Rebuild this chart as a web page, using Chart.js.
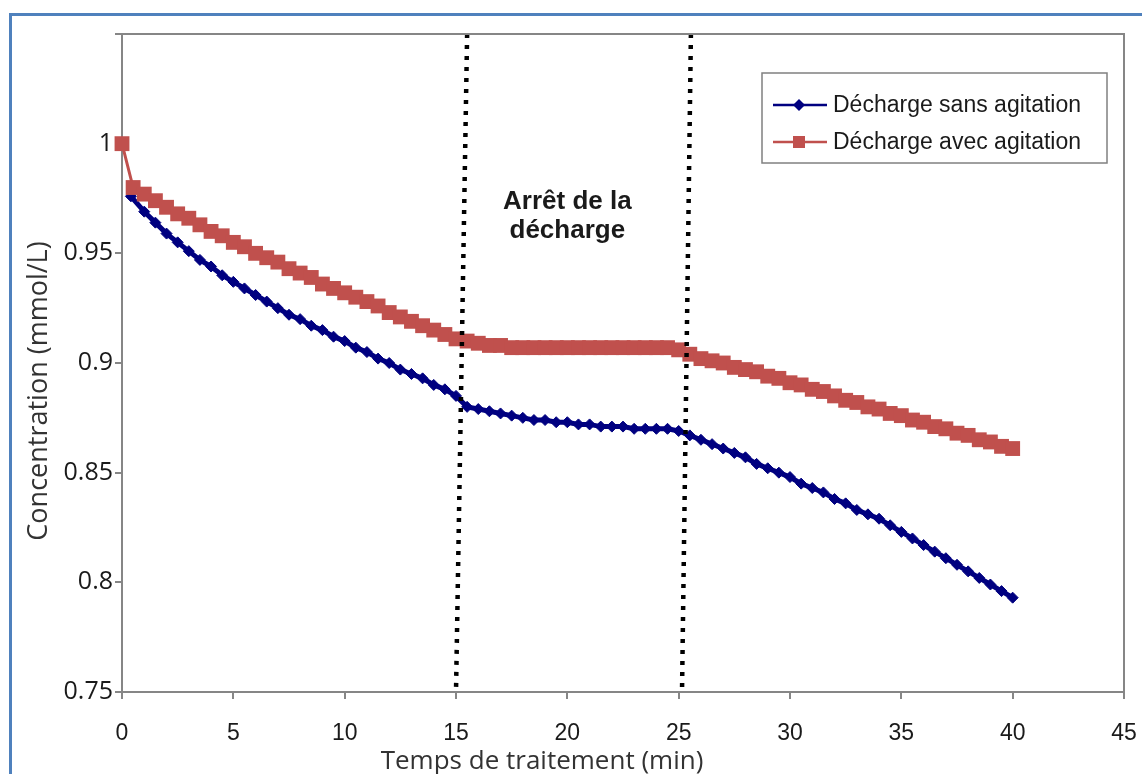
<!DOCTYPE html>
<html>
<head>
<meta charset="utf-8">
<script src="https://cdn.jsdelivr.net/npm/chart.js@4"></script>
<style>
    html, body { margin: 0; padding: 0; background: #fff; }
    #wrap { position: relative; width: 1142px; height: 774px; overflow: hidden; }
    #frame {
        position: absolute; left: 9px; top: 13px; width: 1200px; height: 800px;
        border-left: 3px solid #4f81bd; border-top: 3px solid #4f81bd;
        box-sizing: border-box; pointer-events: none;
    }
    canvas { position: absolute; left: 0; top: 0; }
</style>
</head>
<body>
<div id="wrap">
    <canvas id="chart" width="1142" height="774"></canvas>
    <div id="frame"></div>
</div>
<script>
// Temps (min) - une mesure toutes les 30 s
const timesAvec = [0, 0.5, 1, 1.5, 2, 2.5, 3, 3.5, 4, 4.5, 5, 5.5, 6, 6.5, 7, 7.5, 8, 8.5, 9, 9.5,
    10, 10.5, 11, 11.5, 12, 12.5, 13, 13.5, 14, 14.5, 15, 15.5, 16, 16.5, 17, 17.5, 18, 18.5, 19, 19.5,
    20, 20.5, 21, 21.5, 22, 22.5, 23, 23.5, 24, 24.5, 25, 25.5, 26, 26.5, 27, 27.5, 28, 28.5, 29, 29.5,
    30, 30.5, 31, 31.5, 32, 32.5, 33, 33.5, 34, 34.5, 35, 35.5, 36, 36.5, 37, 37.5, 38, 38.5, 39, 39.5, 40];
const timesSans = [0.4, 1, 1.5, 2, 2.5, 3, 3.5, 4, 4.5, 5, 5.5, 6, 6.5, 7, 7.5, 8, 8.5, 9, 9.5,
    10, 10.5, 11, 11.5, 12, 12.5, 13, 13.5, 14, 14.5, 15, 15.5, 16, 16.5, 17, 17.5, 18, 18.5, 19, 19.5,
    20, 20.5, 21, 21.5, 22, 22.5, 23, 23.5, 24, 24.5, 25, 25.5, 26, 26.5, 27, 27.5, 28, 28.5, 29, 29.5,
    30, 30.5, 31, 31.5, 32, 32.5, 33, 33.5, 34, 34.5, 35, 35.5, 36, 36.5, 37, 37.5, 38, 38.5, 39, 39.5, 40];

// Concentration (mmol/L)
const sansAgitation = [0.976, 0.969, 0.964, 0.959, 0.955, 0.951, 0.947, 0.944, 0.940, 0.937,
    0.934, 0.931, 0.928, 0.925, 0.922, 0.920, 0.917, 0.915, 0.912, 0.910,
    0.907, 0.905, 0.902, 0.900, 0.897, 0.895, 0.893, 0.890, 0.888, 0.885,
    0.880, 0.879, 0.878, 0.877, 0.876, 0.875, 0.874, 0.874, 0.873, 0.873,
    0.872, 0.872, 0.871, 0.871, 0.871, 0.870, 0.870, 0.870, 0.870, 0.869,
    0.867, 0.865, 0.863, 0.861, 0.859, 0.857, 0.854, 0.852, 0.850, 0.848,
    0.845, 0.843, 0.841, 0.838, 0.836, 0.833, 0.831, 0.829, 0.826, 0.823,
    0.820, 0.817, 0.814, 0.811, 0.808, 0.805, 0.802, 0.799, 0.796, 0.793];
const avecAgitation = [1.000, 0.980, 0.977, 0.974, 0.971, 0.968, 0.966, 0.963, 0.960, 0.958,
    0.955, 0.953, 0.950, 0.948, 0.946, 0.943, 0.941, 0.939, 0.936, 0.934,
    0.932, 0.930, 0.928, 0.926, 0.923, 0.921, 0.919, 0.917, 0.915, 0.913,
    0.911, 0.910, 0.909, 0.908, 0.908, 0.907, 0.907, 0.907, 0.907, 0.907,
    0.907, 0.907, 0.907, 0.907, 0.907, 0.907, 0.907, 0.907, 0.907, 0.907,
    0.906, 0.904, 0.902, 0.901, 0.900, 0.898, 0.897, 0.896, 0.894, 0.893,
    0.891, 0.890, 0.888, 0.887, 0.885, 0.883, 0.882, 0.880, 0.879, 0.877,
    0.876, 0.874, 0.873, 0.871, 0.870, 0.868, 0.867, 0.865, 0.864, 0.862, 0.861];

// Lignes pointillées (arrêt de la décharge), tracées à la main dans l'original
const arretDebut = [{ x: 15.5, y: 1.05 }, { x: 15.0, y: 0.75 }];
const arretFin = [{ x: 25.55, y: 1.05 }, { x: 25.15, y: 0.75 }];

const xTicks = [0, 5, 10, 15, 20, 25, 30, 35, 40, 45];
const yTicks = [0.75, 0.8, 0.85, 0.9, 0.95, 1, 1.05];
const noteLines = ['Arrêt de la', 'décharge'];

const BLUE = '#000080';
const RED = '#c0504d';
const AXIS = '#868686';

const zip = (xs, ys) => xs.map((x, i) => ({ x, y: ys[i] }));

// cadre, titres d'axes, annotation et légende
const decorPlugin = {
    id: 'decor',
    afterDraw(chart) {
        const { ctx, chartArea: a, scales } = chart;
        ctx.save();

        // cadre du graphique (haut et droite)
        ctx.strokeStyle = AXIS;
        ctx.lineWidth = 2;
        ctx.beginPath();
        ctx.moveTo(a.left - 7, a.top);
        ctx.lineTo(a.right, a.top);
        ctx.lineTo(a.right, a.bottom);
        ctx.stroke();

        // texte de l'annotation
        ctx.fillStyle = '#1a1a1a';
        ctx.font = 'bold 26px "Liberation Sans", Arial, sans-serif';
        ctx.textAlign = 'center';
        ctx.textBaseline = 'alphabetic';
        const nx = scales.x.getPixelForValue(20);
        ctx.fillText(noteLines[0], nx, scales.y.getPixelForValue(0.970));
        ctx.fillText(noteLines[1], nx, scales.y.getPixelForValue(0.957));

        // titres d'axes
        ctx.fillStyle = '#333';
        ctx.font = '26px "Open Sans", sans-serif';
        ctx.fillText('Temps de traitement (min)', 542, 769);
        ctx.save();
        ctx.translate(39, 391);
        ctx.rotate(-Math.PI / 2);
        ctx.textBaseline = 'middle';
        ctx.font = '27px "Open Sans", sans-serif';
        ctx.fillText('Concentration (mmol/L)', 0, 0);
        ctx.restore();

        // légende
        const lx = 762, ly = 73, lw = 345, lh = 90;
        ctx.fillStyle = '#fff';
        ctx.fillRect(lx, ly, lw, lh);
        ctx.strokeStyle = '#808080';
        ctx.lineWidth = 1.5;
        ctx.strokeRect(lx, ly, lw, lh);
        const entries = [chart.data.datasets[0], chart.data.datasets[1]];
        entries.forEach((ds, i) => {
            const cy = ly + 32 + i * 37;
            ctx.strokeStyle = ds.borderColor;
            ctx.lineWidth = 2.5;
            ctx.beginPath();
            ctx.moveTo(lx + 11, cy);
            ctx.lineTo(lx + 65, cy);
            ctx.stroke();
            ctx.fillStyle = ds.pointBackgroundColor;
            ctx.beginPath();
            if (ds.pointStyle === 'rectRot') {
                ctx.moveTo(lx + 37, cy - 6);
                ctx.lineTo(lx + 43, cy);
                ctx.lineTo(lx + 37, cy + 6);
                ctx.lineTo(lx + 31, cy);
                ctx.closePath();
            } else {
                ctx.rect(lx + 31, cy - 6, 12, 12);
            }
            ctx.fill();
            ctx.fillStyle = '#1a1a1a';
            ctx.font = '23px "Liberation Sans", Arial, sans-serif';
            ctx.textAlign = 'left';
            ctx.textBaseline = 'middle';
            ctx.fillText(ds.label, lx + 71, cy + 1);
        });
        ctx.restore();
    },
};

new Chart(document.getElementById('chart'), {
    type: 'scatter',
    data: {
        datasets: [
            {
                label: 'Décharge sans agitation',
                data: zip(timesSans, sansAgitation),
                showLine: true,
                borderColor: BLUE,
                borderWidth: 5,
                pointStyle: 'rectRot',
                pointRadius: 5.5,
                pointBackgroundColor: BLUE,
                pointBorderColor: BLUE,
                pointBorderWidth: 1,
                order: 2,
            },
            {
                label: 'Décharge avec agitation',
                data: zip(timesAvec, avecAgitation),
                showLine: true,
                borderColor: RED,
                borderWidth: 3,
                pointStyle: 'rect',
                pointRadius: 10.5,
                pointBackgroundColor: RED,
                pointBorderColor: RED,
                pointBorderWidth: 0,
                order: 1,
            },
            {
                label: 'arret1',
                data: arretDebut,
                showLine: true,
                borderColor: '#000',
                borderWidth: 4.5,
                borderDash: [4, 7],
                pointRadius: 0,
                order: 0,
            },
            {
                label: 'arret2',
                data: arretFin,
                showLine: true,
                borderColor: '#000',
                borderWidth: 4.5,
                borderDash: [4, 7],
                pointRadius: 0,
                order: 0,
            },
        ],
    },
    options: {
        responsive: false,
        animation: false,
        clip: false,
        layout: { padding: { top: 34, right: 18, left: 0, bottom: 0 } },
        plugins: {
            legend: { display: false },
            tooltip: { enabled: false },
        },
        scales: {
            x: {
                type: 'linear',
                min: 0,
                max: 45,
                afterBuildTicks: (s) => { s.ticks = xTicks.map((v) => ({ value: v })); },
                afterFit: (s) => { s.height = 82; s.paddingLeft = 0; s.paddingRight = 0; },
                border: { color: AXIS, width: 2 },
                grid: { drawOnChartArea: false, color: AXIS, lineWidth: 2, tickLength: 7 },
                ticks: {
                    color: '#1a1a1a',
                    padding: 21,
                    maxRotation: 0,
                    font: { family: '"Liberation Sans", Arial, sans-serif', size: 23 },
                },
            },
            y: {
                min: 0.75,
                max: 1.05,
                afterBuildTicks: (s) => { s.ticks = yTicks.map((v) => ({ value: v })); },
                afterFit: (s) => { s.width = 122; s.paddingTop = 0; s.paddingBottom = 0; },
                border: { color: AXIS, width: 2 },
                grid: { drawOnChartArea: false, color: AXIS, lineWidth: 2, tickLength: 7 },
                ticks: {
                    color: '#1a1a1a',
                    padding: 2,
                    font: { family: '"Open Sans", sans-serif', size: 25 },
                    callback: (v) => (v > 1.01 ? '' : String(+v.toFixed(2))),
                },
            },
        },
    },
    plugins: [decorPlugin],
});
</script>
</body>
</html>
